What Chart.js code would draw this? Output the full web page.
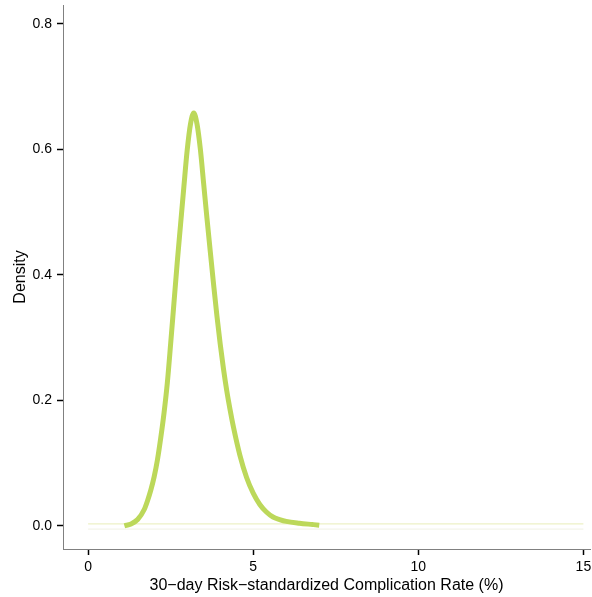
<!DOCTYPE html>
<html>
<head>
<meta charset="utf-8">
<script src="https://cdn.jsdelivr.net/npm/chart.js@4/dist/chart.umd.min.js"></script>
<style>
  html, body { margin: 0; padding: 0; background: #fff; }
  #wrap { width: 592px; height: 597px; }
</style>
</head>
<body>
<div id="wrap"><canvas id="densityChart" width="592" height="597"></canvas></div>
<script>
// complication rate (%) and estimated density
const rates = [1.1, 1.3, 1.5, 1.7, 1.8, 1.9, 2.0, 2.1, 2.2, 2.3, 2.4, 2.5, 2.6, 2.7, 2.8, 2.9, 3.0, 3.1, 3.2, 3.3, 3.4, 3.5, 3.6, 3.7, 3.8, 3.9, 4.0, 4.1, 4.2, 4.3, 4.4, 4.6, 4.8, 5.0, 5.2, 5.4, 5.6, 5.8, 6.0, 6.4, 6.8, 7.0];
const density = [0, 0.003, 0.01, 0.026, 0.04, 0.057, 0.078, 0.105, 0.14, 0.18, 0.228, 0.29, 0.355, 0.42, 0.48, 0.54, 0.598, 0.64, 0.658, 0.64, 0.60, 0.545, 0.49, 0.437, 0.385, 0.335, 0.29, 0.25, 0.215, 0.185, 0.158, 0.112, 0.077, 0.052, 0.034, 0.022, 0.014, 0.01, 0.007, 0.004, 0.002, 0.001];

// faint flat reference lines near zero
const flatRange = [0, 15];
const flatLevels = [0.003, -0.0053];

const xTicks = [0, 5, 10, 15];
const yTicks = [0, 0.2, 0.4, 0.6, 0.8];

const fontFamily = "'Liberation Sans', Arial, Helvetica, sans-serif";

const curve = rates.map((r, i) => ({ x: r, y: density[i] }));
const flatColors = ["#edf1c6", "#f3f4ea"];

const datasets = [
    {
        label: "density",
        data: curve,
        borderColor: "#bcd85a",
        borderWidth: 5,
        pointRadius: 0,
        cubicInterpolationMode: "monotone",
        fill: false,
    },
];
flatLevels.forEach((lvl, i) => {
    datasets.push({
        label: "flat" + i,
        data: flatRange.map(x => ({ x: x, y: lvl })),
        borderColor: flatColors[i],
        borderWidth: 1.3,
        pointRadius: 0,
        fill: false,
    });
});

const config = {
    type: "line",
    data: { datasets: datasets },
    options: {
        responsive: false,
        animation: false,
        layout: { padding: { left: 0, top: 5, right: 2, bottom: 0 } },
        plugins: {
            legend: { display: false },
            tooltip: { enabled: false },
        },
        scales: {
            x: {
                type: "linear",
                min: -0.76,
                max: 15.2,
                afterBuildTicks: s => { s.ticks = xTicks.map(v => ({ value: v })); },
                afterFit: s => { s.height = 48; s.paddingLeft = 0; s.paddingRight = 0; },
                ticks: {
                    color: "#000",
                    padding: 4,
                    font: { family: fontFamily, size: 14 },
                    callback: v => String(v),
                },
                grid: { drawOnChartArea: false, color: "#000", tickLength: 6, tickWidth: 1.5 },
                border: { color: "#808080", width: 1 },
                title: {
                    display: true,
                    text: "30\u2212day Risk\u2212standardized Complication Rate (%)",
                    color: "#000",
                    font: { family: fontFamily, size: 16 },
                    padding: { top: 0, bottom: 2 },
                },
            },
            y: {
                min: -0.037,
                max: 0.83,
                afterBuildTicks: s => { s.ticks = yTicks.map(v => ({ value: v })); },
                afterFit: s => { s.width = 63; s.paddingTop = 0; s.paddingBottom = 0; },
                ticks: {
                    color: "#000",
                    padding: 5,
                    font: { family: fontFamily, size: 14 },
                    callback: v => Number(v).toFixed(1),
                },
                grid: { drawOnChartArea: false, color: "#000", tickLength: 6, tickWidth: 1.5 },
                border: { color: "#808080", width: 1 },
                title: {
                    display: true,
                    text: "Density",
                    color: "#000",
                    font: { family: fontFamily, size: 16 },
                    padding: { top: 11, bottom: 0 },
                },
            },
        },
    },
};

const ctx = document.getElementById("densityChart").getContext("2d");
const densityChart = new Chart(ctx, config);
</script>
</body>
</html>
